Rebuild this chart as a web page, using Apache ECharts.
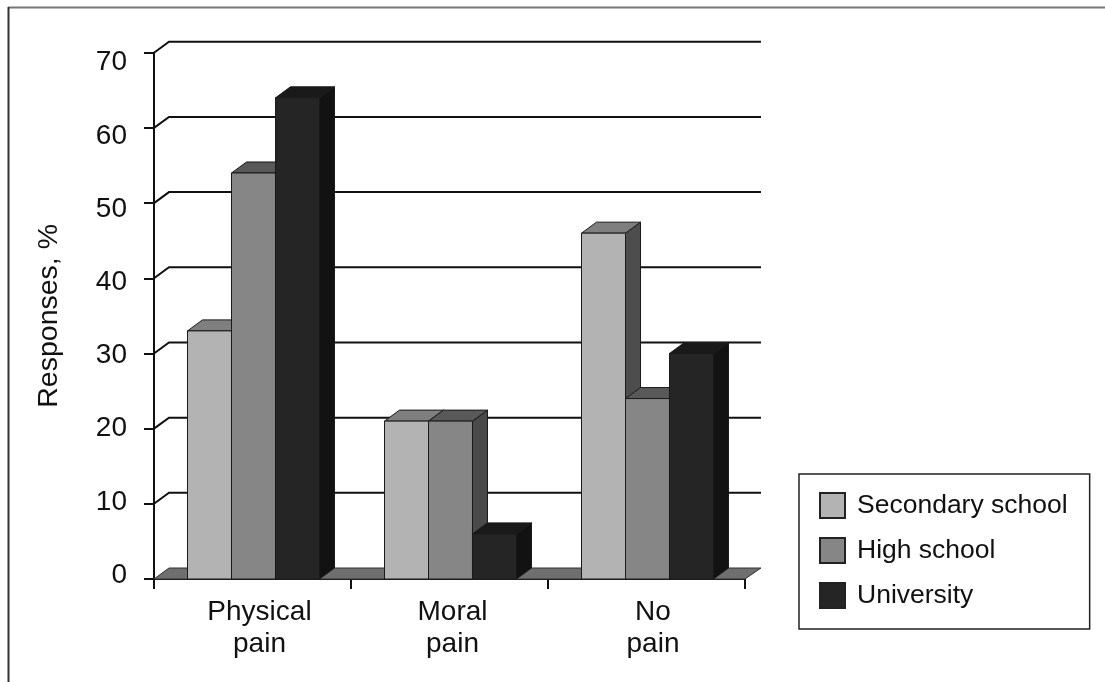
<!DOCTYPE html>
<html>
<head>
<meta charset="utf-8">
<style>html,body{margin:0;padding:0;background:#fff}#chart{width:1105px;height:682px}</style>
<script src="https://cdn.jsdelivr.net/npm/echarts@6/dist/echarts.min.js"></script>
</head>
<body>
<div id="chart"></div>
<script>
// Survey responses by education level
const categories = ['Physical\npain', 'Moral\npain', 'No\npain'];
const secondarySchool = [33, 21, 46];
const highSchool = [54, 21, 24];
const university = [64, 6, 30];
const yTicks = [0, 10, 20, 30, 40, 50, 60, 70];

// Pseudo-3D depth of the walls and bar sides, in pixels
const DEPTH_X = 15;
const DEPTH_Y = 11;
const BAR_SHIFT = 1;
const FONT = '"Liberation Sans", Arial, sans-serif';
const INK = '#111';
const AXIS_FONT_SIZE = 28;

// Value labels sit on a slightly tighter scale than the ticks
function yLabelShift(v) { return -4 + v * 14 / 70; }
const yLabelRich = {};
yTicks.forEach(v => {
  const s = yLabelShift(v);
  yLabelRich['v' + v] = {
    color: '#111', fontFamily: FONT, fontSize: AXIS_FONT_SIZE,
    padding: s > 0 ? [2 * s, 0, 0, 0] : [0, 0, -2 * s, 0]
  };
});

// Category labels sit a little to the right of their band centres
const xLabelShift = { 'Physical\npain': 7, 'Moral\npain': 3, 'No\npain': 6.5 };
const xLabelRich = {};
categories.forEach((c, i) => {
  xLabelRich['c' + i] = {
    color: '#111', fontFamily: FONT, fontSize: AXIS_FONT_SIZE, lineHeight: 32,
    padding: [0, 0, 0, 2 * xLabelShift[c]]
  };
});

// Back wall: slanted tick from the axis and a horizontal gridline; floor at zero
function renderWall(params, api) {
  const sys = params.coordSys;
  const y = api.coord([0, api.value(1)])[1];
  const x0 = sys.x, x1 = sys.x + sys.width;
  const children = [];
  if (api.value(1) === 0) {
    children.push({
      type: 'polygon',
      shape: { points: [[x0, y], [x1, y], [x1 + DEPTH_X + 1, y - DEPTH_Y], [x0 + DEPTH_X, y - DEPTH_Y]] },
      style: { fill: '#6f6f6f', stroke: '#333', lineWidth: 1 }
    });
  } else {
    children.push({
      type: 'polyline',
      shape: { points: [[x0, y], [x0 + DEPTH_X, y - DEPTH_Y], [x1 + DEPTH_X + 1, y - DEPTH_Y]] },
      style: { fill: null, stroke: INK, lineWidth: 2 }
    });
  }
  return { type: 'group', children };
}

// One extruded column: front face, top face and right side
function barRenderer(seriesIndex, front, top, side, edge) {
  return function (params, api) {
    const band = api.size([1, 0])[0];
    const w = band * 0.2233;
    const center = api.coord([api.value(0), 0]);
    const yTop = api.coord([api.value(0), api.value(1)])[1];
    const yBase = center[1];
    const x = center[0] - 1.5 * w + seriesIndex * w + BAR_SHIFT;
    const shape = { stroke: edge, lineWidth: 1, lineJoin: 'round' };
    return {
      type: 'group',
      children: [
        { type: 'polygon',
          shape: { points: [[x + w, yBase], [x + w + DEPTH_X, yBase - DEPTH_Y], [x + w + DEPTH_X, yTop - DEPTH_Y], [x + w, yTop]] },
          style: Object.assign({ fill: side }, shape) },
        { type: 'polygon',
          shape: { points: [[x, yTop], [x + DEPTH_X, yTop - DEPTH_Y], [x + w + DEPTH_X, yTop - DEPTH_Y], [x + w, yTop]] },
          style: Object.assign({ fill: top }, shape) },
        { type: 'rect',
          shape: { x: x, y: yTop, width: w, height: yBase - yTop },
          style: Object.assign({ fill: front }, shape) }
      ]
    };
  };
}

function barSeries(name, values, index, front, top, side) {
  return {
    name: name,
    type: 'custom',
    coordinateSystem: 'cartesian2d',
    renderItem: barRenderer(index, front, top, side, '#1a1a1a'),
    itemStyle: { color: front, borderColor: '#222', borderWidth: 1.5 },
    encode: { x: 0, y: 1 },
    data: values.map((v, i) => [i, v]),
    z: 3
  };
}

const chart = echarts.init(document.getElementById('chart'));
chart.setOption({
  animation: false,
  backgroundColor: '#fff',
  grid: { left: 154, right: 360, top: 52.7, bottom: 103 },
  xAxis: {
    type: 'category',
    data: categories,
    boundaryGap: true,
    axisLine: { lineStyle: { color: INK, width: 2 } },
    axisTick: { show: true, alignWithLabel: false, length: 10, lineStyle: { color: INK, width: 2 } },
    axisLabel: {
      margin: 17,
      interval: 0,
      rich: xLabelRich,
      formatter: (value, index) => value.split('\n').map(part => '{c' + index + '|' + part + '}').join('\n')
    }
  },
  yAxis: {
    type: 'value',
    min: 0,
    max: 70,
    interval: 10,
    name: 'Responses, %',
    nameLocation: 'middle',
    nameRotate: 90,
    nameGap: 90,
    nameTextStyle: { color: '#111', fontFamily: FONT, fontSize: 28.5 },
    splitLine: { show: false },
    axisLine: { show: true, lineStyle: { color: INK, width: 2 } },
    axisTick: { show: true, length: 10, lineStyle: { color: INK, width: 2 } },
    axisLabel: {
      margin: 27,
      rich: yLabelRich,
      formatter: value => '{v' + value + '|' + value + '}'
    }
  },
  legend: {
    left: 799,
    top: 474,
    orient: 'vertical',
    align: 'left',
    icon: 'rect',
    itemWidth: 25,
    itemHeight: 25,
    itemGap: 18,
    padding: [18, 22, 20, 20],
    backgroundColor: '#fff',
    borderColor: '#222',
    borderWidth: 1.5,
    borderRadius: 0,
    selectedMode: false,
    textStyle: { color: '#111', fontFamily: FONT, fontSize: 26.5, lineHeight: 25, padding: [0, 0, 0, 7] },
    data: ['Secondary school', 'High school', 'University']
  },
  graphic: [
    { type: 'line', silent: true, shape: { x1: 8, y1: 7.5, x2: 1105, y2: 7.5 }, style: { stroke: '#777', lineWidth: 2 } },
    { type: 'line', silent: true, shape: { x1: 8.5, y1: 7, x2: 8.5, y2: 682 }, style: { stroke: '#333', lineWidth: 2 } }
  ],
  series: [
    {
      type: 'custom',
      coordinateSystem: 'cartesian2d',
      renderItem: renderWall,
      encode: { x: 0, y: 1 },
      data: yTicks.map(v => [0, v]),
      z: 1,
      silent: true
    },
    barSeries('Secondary school', secondarySchool, 0, '#b3b3b3', '#7f7f7f', '#4d4d4d'),
    barSeries('High school', highSchool, 1, '#868686', '#595959', '#4a4a4a'),
    barSeries('University', university, 2, '#252525', '#1a1a1a', '#121212')
  ]
});
</script>
</body>
</html>
